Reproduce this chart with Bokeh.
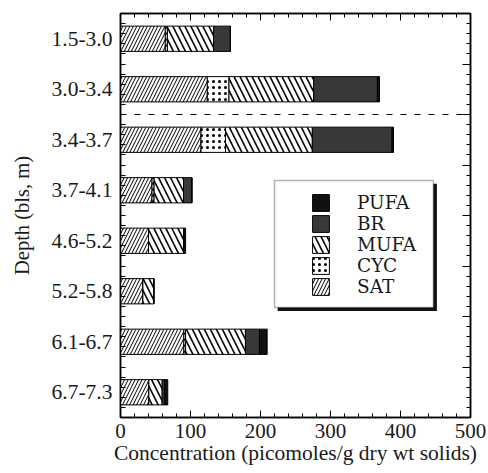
from bokeh.plotting import figure
from bokeh.models import (FixedTicker, LinearAxis, Range1d, Legend, LegendItem,
                          Span, BoxAnnotation, ColumnDataSource, CustomLabelingPolicy)
from bokeh.embed import file_html
from bokeh.resources import INLINE

# ---- data ----
depths = ["1.5-3.0", "3.0-3.4", "3.4-3.7", "3.7-4.1",
          "4.6-5.2", "5.2-5.8", "6.1-6.7", "6.7-7.3"]
sat  = [64, 124, 115, 45, 40, 32, 90.5, 40.5]
cyc  = [3, 31, 35, 3, 0, 0, 2.5, 0]
mufa = [66, 121, 124, 42, 50.5, 15.6, 85.5, 19]
br   = [24, 91, 114, 12, 0, 0, 20, 3.5]
pufa = [0, 3, 2, 0, 2.5, 0, 11, 4.5]
series = ["SAT", "CYC", "MUFA", "BR", "PUFA"]
x_ticks = [0, 100, 200, 300, 400, 500]

FONT = "Liberation Serif"
LFONT = "DejaVu Serif"
TXT = "#1a1a1a"

n = len(depths)
ypos = [n - i - 0.5 for i in range(n)]

src = ColumnDataSource(dict(y=ypos, SAT=sat, CYC=cyc, MUFA=mufa, BR=br, PUFA=pufa))

p = figure(width=488, height=473, x_range=Range1d(0, 500), y_range=Range1d(0, n),
           output_backend="svg", toolbar_location=None,
           min_border_left=120, min_border_right=18, min_border_top=13, min_border_bottom=56)
p.grid.visible = False
p.outline_line_color = "black"
p.outline_line_width = 1.5
p.background_fill_color = "white"
p.border_fill_color = "white"

rs = p.hbar_stack(series, y="y", height=0.5, source=src,
                  fill_color=["white", "white", "white", "#383838", "#111111"],
                  hatch_pattern=["/", ".", "\\", " ", " "],
                  hatch_scale=[7, 6, 12, 12, 12],
                  hatch_weight=[1.0, 1.5, 1.6, 1, 1],
                  hatch_color="black",
                  line_color="black", line_width=1)

p.add_layout(Span(location=6, dimension="width", line_color="black",
                  line_width=1, line_dash="6 8"))

# ---- axes ----
minor_y = [round(i * 0.2, 1) for i in range(5 * n + 1)]
NO_LABELS_JS = """
try {
  const r = indices.clone();
  for (const i of Array.from(indices)) {
    if (typeof r.unset === "function") r.unset(i); else r.set(i, false);
  }
  return r;
} catch (e) {
  return indices;
}
"""

xa = p.xaxis[0]
xa.ticker = FixedTicker(ticks=x_ticks, minor_ticks=list(range(0, 501, 20)))
xa.axis_label = "Concentration (picomoles/g dry wt solids)"
xa.major_tick_in = 7
xa.major_tick_out = 0
xa.minor_tick_in = 4
xa.minor_tick_out = 0
xa.major_label_text_font = FONT
xa.major_label_text_font_size = "21px"
xa.major_label_text_color = TXT
xa.major_label_standoff = 6
xa.axis_label_text_font = FONT
xa.axis_label_text_font_size = "21.5px"
xa.axis_label_text_font_style = "normal"
xa.axis_label_text_color = TXT
xa.axis_label_standoff = 0
xa.axis_line_width = 1.5

ya = p.yaxis[0]
ya.ticker = FixedTicker(ticks=ypos, minor_ticks=minor_y)
ya.major_label_overrides = {y: d for y, d in zip(ypos, depths)}
ya.major_tick_line_color = None
ya.major_tick_in = 0
ya.major_tick_out = 0
ya.minor_tick_in = 5
ya.minor_tick_out = 0
ya.major_label_text_font = FONT
ya.major_label_text_font_size = "21.5px"
ya.major_label_text_color = TXT
ya.major_label_standoff = 8
ya.axis_label = "Depth (bls, m)"
ya.axis_label_text_font = FONT
ya.axis_label_text_font_size = "20.5px"
ya.axis_label_text_font_style = "normal"
ya.axis_label_text_color = TXT
ya.axis_label_standoff = 16
ya.axis_line_width = 1.5

top = LinearAxis(ticker=FixedTicker(ticks=x_ticks, minor_ticks=list(range(0, 501, 20))),
                 major_tick_in=7, major_tick_out=0, minor_tick_in=4, minor_tick_out=0,
                 major_label_policy=CustomLabelingPolicy(code=NO_LABELS_JS),
                 major_label_standoff=0,
                 major_label_text_font_size="1px", axis_line_width=1.5)
p.add_layout(top, "above")
right = LinearAxis(ticker=FixedTicker(ticks=list(range(0, n + 1)), minor_ticks=minor_y),
                   major_tick_in=8, major_tick_out=0, minor_tick_in=4, minor_tick_out=0,
                   major_label_policy=CustomLabelingPolicy(code=NO_LABELS_JS),
                   major_label_standoff=0,
                   major_label_text_font_size="1px", axis_line_width=1.5)
p.add_layout(right, "right")

# ---- legend box with shadow ----
p.add_layout(BoxAnnotation(left=224.5, right=452, bottom=2.11, top=4.63,
                           fill_color="#111111", fill_alpha=1, line_color=None,
                           level="annotation"))
p.add_layout(BoxAnnotation(left=220, right=447, bottom=2.178, top=4.693,
                           fill_color="white", fill_alpha=1, line_color="black",
                           line_width=1.5, level="annotation"))

items = [LegendItem(label=s, renderers=[r]) for s, r in zip(series, rs)][::-1]
legend = Legend(items=items, location=(190, 120), border_line_color=None,
                background_fill_alpha=0, padding=0, margin=0, spacing=0,
                glyph_width=21, glyph_height=21, label_standoff=26, label_height=21,
                label_text_font=LFONT, label_text_font_size="18.5px", label_text_color=TXT)
p.add_layout(legend)

open("out.html", "w").write(file_html(p, INLINE))
